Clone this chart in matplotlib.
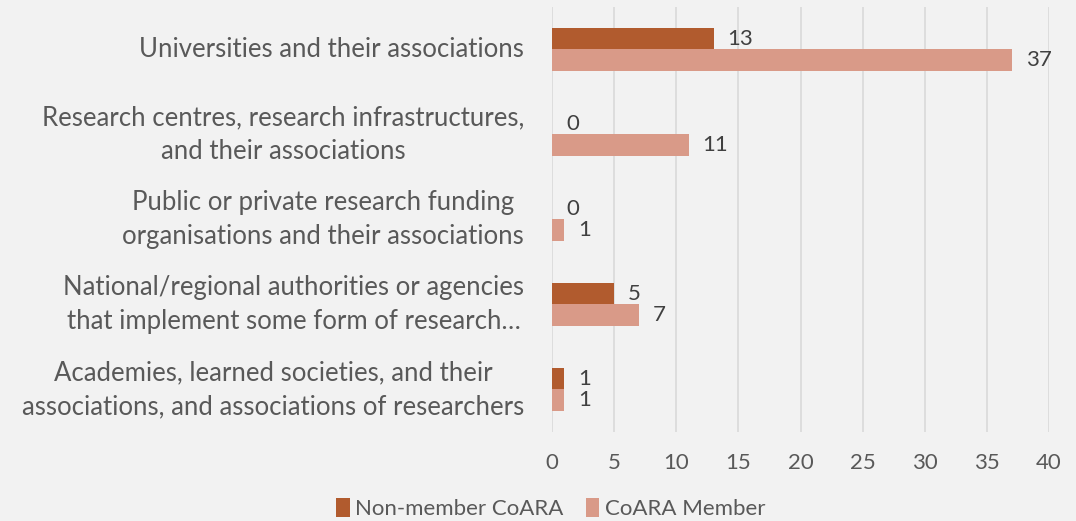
import numpy as np
import matplotlib.pyplot as plt

categories = [
    "Universities and their associations",
    "Research centres, research infrastructures,\nand their associations",
    "Public or private research funding\norganisations and their associations",
    "National/regional authorities or agencies\nthat implement some form of research\u2026",
    "Academies, learned societies, and their\nassociations, and associations of researchers",
]
non_member = [13, 0, 0, 5, 1]
member = [37, 11, 1, 7, 1]
series_names = ["Non-member CoARA", "CoARA Member"]

DARK = "#b15b2e"
LIGHT = "#d99a88"
BG = "#f2f2f2"
TXT = "#595959"

plt.rcParams['font.family'] = ['Lato', 'DejaVu Sans']

fig = plt.figure(figsize=(10.76, 5.21), dpi=100, facecolor=BG)
ax = fig.add_axes([0.513, 0.171, 0.462, 0.816], facecolor=BG)

y = np.arange(len(categories))
h = 0.25
b1 = ax.barh(y - h / 2, non_member, height=h, color=DARK, label=series_names[0])
b2 = ax.barh(y + h / 2, member, height=h, color=LIGHT, label=series_names[1])

for bars in (b1, b2):
    for rect in bars:
        w = rect.get_width()
        ax.annotate(f"{w:g}", (w, rect.get_y() + rect.get_height() / 2),
                    xytext=(10, 0), textcoords="offset points",
                    va="center", ha="left", fontsize=16, color="#404040")

ax.set_ylim(len(categories) - 0.5, -0.5)
ax.set_xlim(0, 40)
ax.set_xticks(np.arange(0, 41, 5))
ax.set_yticks(y)
ax.set_yticklabels(categories, multialignment="center", linespacing=1.45, va="center")
ax.tick_params(axis="y", length=0, pad=20, labelsize=18.5, labelcolor=TXT)
ax.tick_params(axis="x", length=0, pad=15, labelsize=16, labelcolor=TXT)
ax.grid(axis="x", color="#d9d9d9", linewidth=1.2)
ax.set_axisbelow(True)
for s in ax.spines.values():
    s.set_visible(False)

fig.legend(loc="lower center", bbox_to_anchor=(0.512, -0.035), ncol=2, frameon=False,
           fontsize=16, labelcolor=TXT, handlelength=0.6, handleheight=0.9,
           handletextpad=0.25, columnspacing=1.0)

fig.savefig("out.png", dpi=100, facecolor=BG)
